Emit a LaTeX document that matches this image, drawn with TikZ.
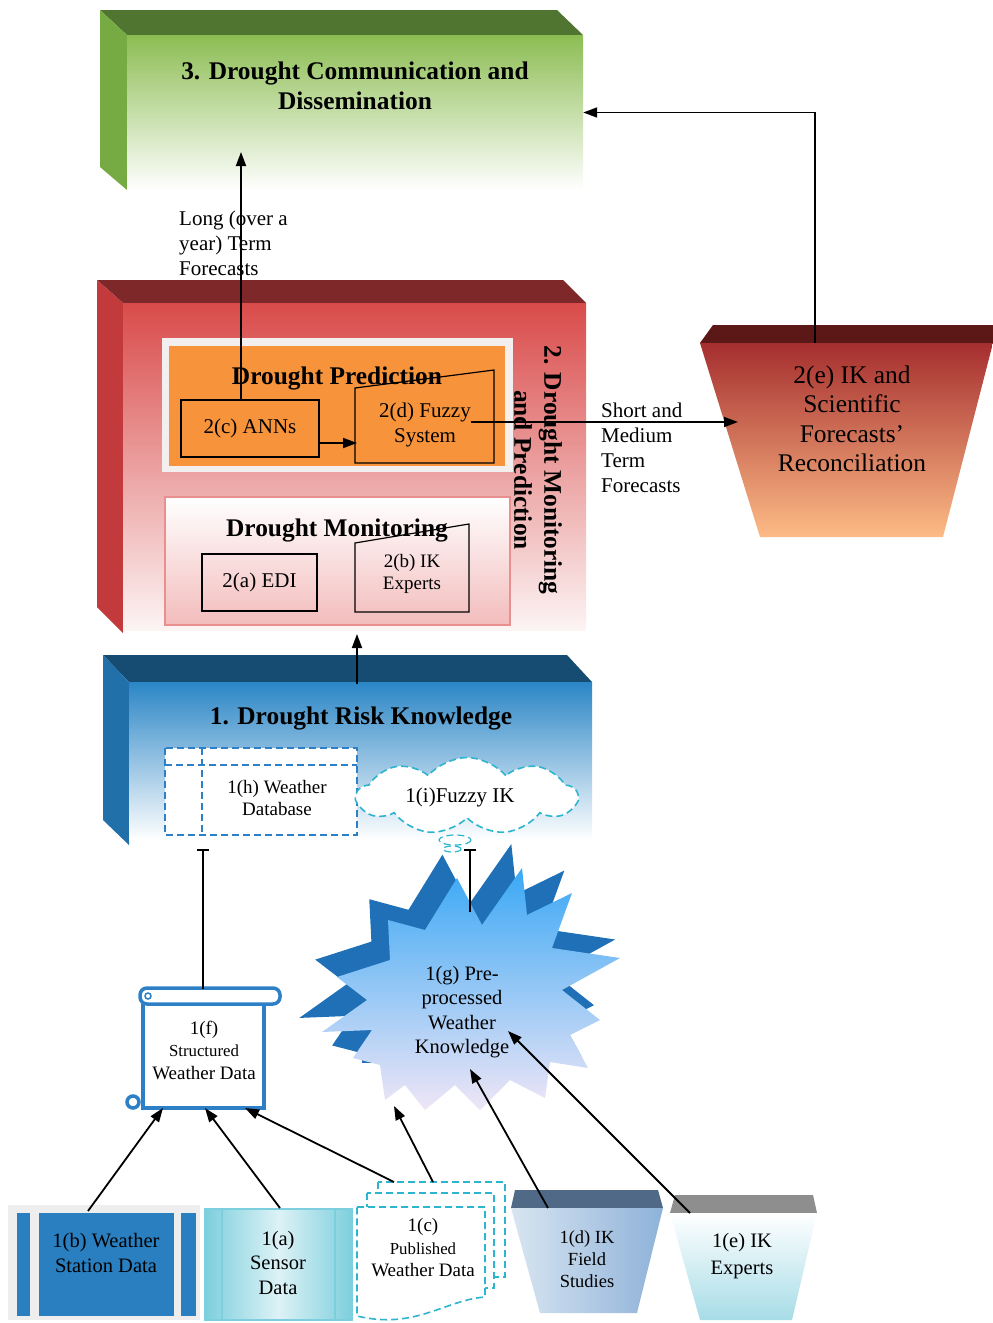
\documentclass[tikz,border=0pt]{standalone}
\usepackage{fontspec}
\setmainfont{Liberation Serif}
\usetikzlibrary{arrows.meta,shapes.symbols}

\definecolor{verdetapa}{HTML}{4F7530}
\definecolor{verdelado}{HTML}{76AB43}
\definecolor{verde}{HTML}{8CBD52}
\definecolor{rojotapa}{HTML}{7E2829}
\definecolor{rojolado}{HTML}{C23A3C}
\definecolor{rojo}{HTML}{D94B4A}
\definecolor{naranja}{HTML}{F7933B}
\definecolor{grisborde}{HTML}{F2EFEE}
\definecolor{rosa}{HTML}{F3BCBC}
\definecolor{rosaborde}{HTML}{E88F8F}
\definecolor{vinotapa}{HTML}{5C1717}
\definecolor{vino}{HTML}{A52E2E}
\definecolor{durazno}{HTML}{FDBB86}
\definecolor{azultapa}{HTML}{174C72}
\definecolor{azullado}{HTML}{2170AA}
\definecolor{azul}{HTML}{2B86C6}
\definecolor{azullinea}{HTML}{2E80C6}
\definecolor{cian}{HTML}{2DB4CF}
\definecolor{estrellaosc}{HTML}{1F70B6}
\definecolor{celeste}{HTML}{3AA8F5}
\definecolor{lila}{HTML}{EFE6F6}
\definecolor{grisfondo}{HTML}{EEEEEE}
\definecolor{azulbarra}{HTML}{2A7FC0}
\definecolor{cianA}{HTML}{7DCFDD}
\definecolor{cianB}{HTML}{DDF2F6}
\definecolor{pizarra}{HTML}{506986}
\definecolor{azulhielo}{HTML}{D9E5F1}
\definecolor{azulmedio}{HTML}{8DB2D9}
\definecolor{grismedio}{HTML}{8E8E8E}
\definecolor{aguamarina}{HTML}{A7DCE7}

\tikzset{
  flecha/.style={line width=1.8pt, -{Triangle[length=14pt,width=10pt]}},
  tope/.style={line width=1.8pt, -{Bar[width=12pt]}},
  titulo/.style={font=\bfseries\fontsize{25.4}{30}\selectfont, align=center, inner sep=0pt},
  texto/.style={font=\fontsize{25.4}{29.5}\selectfont, align=center, inner sep=0pt},
  medio/.style={font=\fontsize{21}{25}\selectfont, align=center, inner sep=0pt},
  abajo/.style={font=\fontsize{20.5}{24.5}\selectfont, align=center, inner sep=0pt},
  chico/.style={font=\fontsize{19}{22.5}\selectfont, align=center, inner sep=0pt},
  caja/.style={draw=black, line width=1.2pt, inner sep=0pt},
  rollo/.style={draw=azullinea, line width=3.5pt},
  punteado/.style={dash pattern=on 7pt off 4pt, line width=1.6pt},
}

% contorno de la estrella 1(g)
\def\estrella{(457,878) -- (482,925) -- (522,868) -- (527,915) -- (572,893) -- (552,948) -- (620,958) -- (562,990) -- (600,1020) -- (570,1035) -- (588,1068) -- (550,1062) -- (545,1098) -- (510,1080) -- (480,1110) -- (455,1085) -- (425,1110) -- (405,1085) -- (385,1100) -- (380,1065) -- (353,1058) -- (372,1030) -- (322,1032) -- (367,1000) -- (337,977) -- (390,960) -- (388,920) -- (425,930) -- cycle}

\begin{document}
\begin{tikzpicture}[x=1pt, y=-1pt]
  \useasboundingbox (0,0) rectangle (993,1323);

  %%%% 3. comunicacion
  \fill[verdetapa] (100,10) -- (557,10) -- (583,35) -- (127,35) -- cycle;
  \fill[verdelado] (100,10) -- (127,35) -- (127,190) -- (100,167) -- cycle;
  \shade[top color=verde, bottom color=white] (127,35) rectangle (583,190);
  \node[inner sep=0pt, minimum width=456pt, minimum height=155pt] (comm) at (355,112.5) {};
  \node[titulo] (commtxt) at (355,86) {3. Drought Communication and\\Dissemination};

  \node[medio, align=left, anchor=west] (largo) at (179,243) {Long (over a\\year) Term\\Forecasts};

  %%%% 2. monitoreo y prediccion
  \fill[rojotapa] (97,280) -- (563,280) -- (586,303) -- (123,303) -- cycle;
  \fill[rojolado] (97,280) -- (123,303) -- (123,633) -- (97,607) -- cycle;
  \shade[top color=rojo, bottom color=rojo!6] (123,303) rectangle (586,630);
  \node[titulo, rotate=-90] (monpred) at (538,470) {2. Drought Monitoring\\and Prediction};

  % prediccion
  \fill[grisborde] (162,338) rectangle (513,472);
  \fill[naranja] (169,346) rectangle (505,466);
  \node[caja, medio, fill=naranja, minimum width=138pt, minimum height=57pt] (ann) at (250,428.5) {2(c) ANNs};
  \draw[line width=1.2pt, fill=naranja] (355,463) -- (494,463) -- (494,370) -- (355,388) -- cycle;
  \node[titulo] (predtxt) at (337,378) {Drought Prediction};
  \node[medio] (fuzzy) at (425,424.5) {2(d) Fuzzy\\System};

  % monitoreo
  \draw[rosaborde, line width=2pt, top color=white, bottom color=rosa] (165,497) rectangle (510,625);
  \node[caja, medio, minimum width=115pt, minimum height=57pt] (edi) at (259.5,582.5) {2(a) EDI};
  \draw[line width=1.2pt] (355,612) -- (469,612) -- (469,524) -- (355,543) -- cycle;
  \node[titulo] (montxt) at (337,530) {Drought Monitoring};
  \node[chico] (ikexp) at (412,574) {2(b) IK\\Experts};

  %%%% 2(e) reconciliacion
  \fill[vinotapa] (700,343) -- (713,325) -- (993,325) -- (993,343) -- cycle;
  \shade[top color=vino, bottom color=durazno] (700,343) -- (993,343) -- (943,537) -- (760,537) -- cycle;
  \node[texto] (recon) at (852,419) {2(e) IK and\\Scientific\\Forecasts'\\Reconciliation};
  \node[medio, align=left, anchor=west] (corto) at (601,448) {Short and\\Medium\\Term\\Forecasts};

  %%%% 1. conocimiento del riesgo
  \fill[azultapa] (103,655) -- (567,655) -- (592,682) -- (129,682) -- cycle;
  \fill[azullado] (103,655) -- (129,682) -- (129,845) -- (103,820) -- cycle;
  \shade[top color=azul, bottom color=white] (129,682) rectangle (592,840);
  \node[titulo] (riesgo) at (361,718) {1. Drought Risk Knowledge};

  % 1(h) base de datos
  \draw[azullinea, punteado, fill=white] (165,748) rectangle (357,835);
  \draw[azullinea, punteado] (202,748) -- (202,835);
  \draw[azullinea, punteado] (165,765) -- (357,765);
  \node[chico] (basedatos) at (277,798) {1(h) Weather\\Database};

  % 1(i) nube
  \node[cloud, cloud puffs=9, cloud puff arc=100, aspect=3, draw=cian, punteado, fill=white,
        minimum width=220pt, minimum height=77pt] (nube) at (467,796) {};
  \node[medio] (nubetxt) at (460,797) {1(i)Fuzzy IK};
  \draw[cian, punteado, line width=1.2pt] (455,840) ellipse (16 and 5);
  \draw[cian, punteado, line width=1.2pt] (452,849) ellipse (9 and 3);

  %%%% 1(f) rollo
  \draw[rollo, fill=white] (143,1004) -- (143,1108) -- (264,1108) -- (264,1004);
  \draw[rollo, fill=white, rounded corners=7pt] (140,988) rectangle (280,1004);
  \draw[azullinea, line width=1.5pt] (148,996) circle (3);
  \draw[rollo, fill=white] (133,1102) circle (6);
  \node[chico] (estruct) at (204,1050) {1(f)\\\fontsize{16.8}{20}\selectfont Structured\\Weather Data};

  %%%% 1(g) estrella
  \begin{scope}
    \clip (290,820) rectangle (650,1062);
    \begin{scope}[shift={(-42,-76)}, scale=1.06]
      \fill[estrellaosc] \estrella;
    \end{scope}
  \end{scope}
  \shade[top color=celeste, bottom color=lila] \estrella;
  \node[abajo] (preproc) at (462,1012) {1(g) Pre-\\processed\\Weather\\Knowledge};

  %%%% fuentes de datos
  % 1(b)
  \fill[grisfondo] (8,1205) rectangle (200,1320);
  \fill[azulbarra] (17,1213) rectangle (30,1316);
  \fill[azulbarra] (39,1213) rectangle (174,1316);
  \fill[azulbarra] (181,1213) rectangle (196,1316);
  \node[abajo] (estacion) at (106,1253) {1(b) Weather\\Station Data};
  % 1(a)
  \draw[cianA, line width=1.5pt, left color=cianA, right color=cianA, middle color=cianB] (205,1209) rectangle (352,1320);
  \draw[cianA, line width=1.2pt] (222,1209) -- (222,1320);
  \draw[cianA, line width=1.2pt] (335,1209) -- (335,1320);
  \node[abajo] (sensor) at (278,1262.5) {1(a)\\Sensor\\Data};
  % 1(c)
  \draw[cian, punteado, fill=white] (378,1182) rectangle (505,1277);
  \draw[cian, punteado, fill=white] (367,1193) rectangle (494,1288);
  \draw[cian, punteado, fill=white] (357,1207) -- (485,1207) -- (485,1297) .. controls (445,1300) and (415,1330) .. (357,1316) -- cycle;
  \node[chico] (publicado) at (423,1248) {1(c)\\\fontsize{16.8}{20}\selectfont Published\\Weather Data};
  % 1(d)
  \fill[pizarra] (515,1190) -- (658,1190) -- (663,1208) -- (511,1208) -- cycle;
  \shade[left color=azulhielo, right color=azulmedio] (511,1208) -- (663,1208) -- (637,1313) -- (540,1313) -- cycle;
  \node[font=\fontsize{18.5}{22}\selectfont, align=center, inner sep=0pt] (campo) at (587,1259) {1(d) IK\\Field\\Studies};
  % 1(e)
  \fill[grismedio] (675,1195) -- (813,1195) -- (817,1213) -- (670,1213) -- cycle;
  \shade[top color=white, bottom color=aguamarina] (670,1213) -- (817,1213) -- (792,1320) -- (700,1320) -- cycle;
  \node[font=\fontsize{20.5}{27}\selectfont, align=center, inner sep=0pt] (expertos) at (742,1256.5) {1(e) IK\\Experts};

  %%%% conectores
  \coordinate (largofin) at (241,152);
  \coordinate (reconarr) at (815,343);
  \coordinate (reconizq) at (738,422);
  \coordinate (fuzzyizq) at (357,443);
  \coordinate (riesgoarr) at (357,684);
  \coordinate (monab) at (357,634);
  \coordinate (bdab) at (203,849);
  \coordinate (nubeab) at (470,849);
  \coordinate (rolloarr) at (203,989);
  \coordinate (estrarr) at (470,912);
  \coordinate (rolloab1) at (163,1108);
  \coordinate (rolloab2) at (205,1108);
  \coordinate (rolloab3) at (245,1108);
  \coordinate (estr1) at (394,1106);
  \coordinate (estr2) at (470,1069);
  \coordinate (estr3) at (508,1031);
  \coordinate (estacionarr) at (88,1211);
  \coordinate (sensorarr) at (280,1208);
  \coordinate (publarr1) at (394,1182);
  \coordinate (publarr2) at (433,1182);
  \coordinate (campoarr) at (548,1208);
  \coordinate (expertarr) at (690,1213);

  \draw[flecha] ([xshift=-9pt]ann.north) -- (largofin);
  \draw[flecha] (reconarr) |- (comm.east);
  \draw[flecha] (fuzzy.east |- reconizq) -- (reconizq);
  \draw[flecha] (ann.east |- fuzzyizq) -- (fuzzyizq);
  \draw[flecha] (riesgoarr) -- (monab);
  \draw[tope] (rolloarr) -- (bdab);
  \draw[tope] (estrarr) -- (nubeab);
  \draw[flecha] (estacionarr) -- (rolloab1);
  \draw[flecha] (sensorarr) -- (rolloab2);
  \draw[flecha] (publarr1) -- (rolloab3);
  \draw[flecha] (publarr2) -- (estr1);
  \draw[flecha] (campoarr) -- (estr2);
  \draw[flecha] (expertarr) -- (estr3);
\end{tikzpicture}
\end{document}
